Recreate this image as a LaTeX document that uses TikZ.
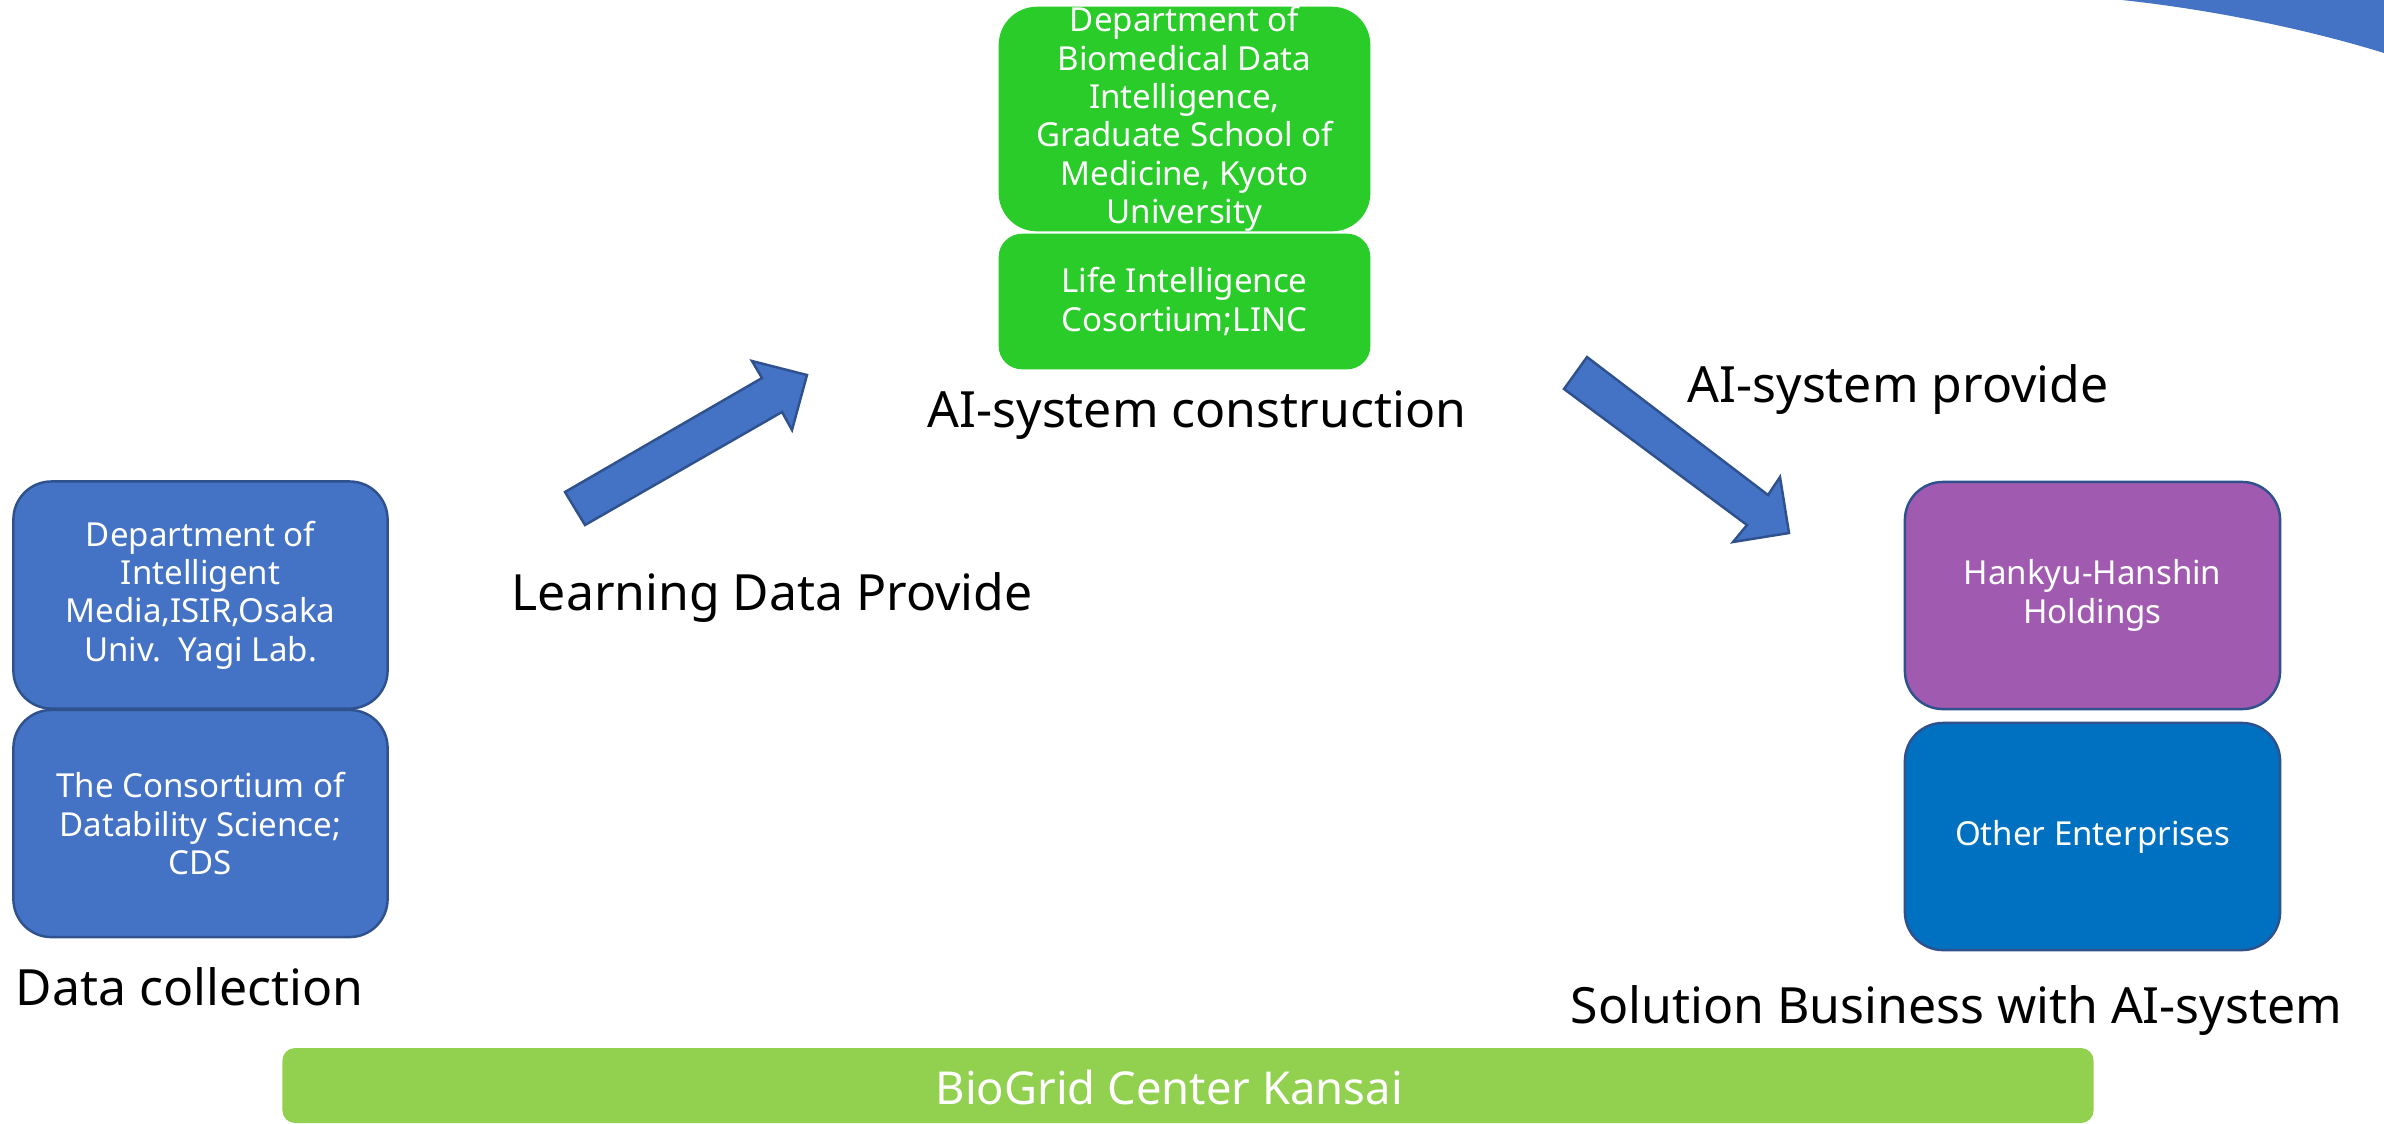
\documentclass[tikz,border=0pt]{standalone}
\usepackage{fontspec}
\setmainfont{Noto Sans}
\definecolor{pblue}{HTML}{4472C4}
\definecolor{pblueline}{HTML}{2F528F}
\definecolor{pgreen}{RGB}{42,204,42}
\definecolor{ppurple}{RGB}{160,90,175}
\definecolor{pother}{HTML}{0070C0}
\definecolor{pbar}{HTML}{92D050}
\begin{document}
\begin{tikzpicture}[x=0.01cm,y=-0.01cm,
  boxshape/.style={draw=pblueline, line width=0.7pt, inner sep=0pt, minimum width=3.74cm, minimum height=2.27cm, rounded corners=0.38cm},
  boxtext/.style={text=white, align=center, inner sep=0pt, font=\fontsize{9.4}{10.9}\selectfont},
  lbl/.style={inner sep=0pt, font=\fontsize{14.2}{17}\selectfont, anchor=base west},
  blockarrow/.style={fill=pblue, draw=pblueline, line width=0.7pt, line join=miter}]
\clip (0,0) rectangle (2384,1123);
% decorative arc top right
\fill[pblue] (2122,0) .. controls (2215,10) and (2310,30) .. (2384,53) -- (2384,0) -- cycle;

% AI-system construction boxes
\node[boxshape, fill=pgreen, draw=pgreen, minimum width=3.69cm, minimum height=2.22cm, rounded corners=0.37cm] (kyoto) at (1184.5,119) {};
\node[boxtext] (kyototxt) at (kyoto.center) {Department of\\Biomedical Data\\Intelligence,\\Graduate School of\\Medicine, Kyoto\\University};
\node[boxshape, fill=pgreen, draw=pgreen, minimum width=3.69cm, minimum height=1.33cm, rounded corners=0.22cm] (linc) at (1184.5,301.5) {};
\node[boxtext] (linctxt) at (linc.center) {Life Intelligence\\Cosortium;LINC};

% Data collection boxes
\node[boxshape, fill=pblue] (osaka) at (200.5,595) {};
\node[boxtext] (osakatxt) at (osaka.center) {Department of\\Intelligent\\Media,ISIR,Osaka\\Univ.\ \ Yagi Lab.};
\node[boxshape, fill=pblue] (cds) at (200.5,823.5) {};
\node[boxtext] (cdstxt) at (cds.center) {The Consortium of\\Datability Science;\\CDS};

% Solution business boxes
\node[boxshape, fill=ppurple, minimum width=3.75cm] (hh) at (2092.5,595.5) {};
\node[boxtext] (hhtxt) at (hh.center) {Hankyu-Hanshin\\Holdings};
\node[boxshape, fill=pother, minimum width=3.75cm] (other) at (2092.5,836.5) {};
\node[boxtext] (othertxt) at (other.center) {Other Enterprises};

% block arrows
\draw[blockarrow] (565,492) -- (762,378) -- (752,361) -- (807,375) -- (792,430) -- (782,412) -- (585,525) -- cycle;
\draw[blockarrow] (1587,357) -- (1768,495) -- (1780,477) -- (1789,533) -- (1733,542) -- (1747,525) -- (1564,389) -- cycle;

% labels
\node[lbl] (ldp) at (511,610) {Learning Data Provide};
\node[lbl] (aic) at (927,427) {AI-system construction};
\node[lbl] (aip) at (1687,402) {AI-system provide};
\node[lbl] (dc) at (15,1005) {Data collection};
\node[lbl] (sb) at (1570,1023) {Solution Business with AI-system};

% bottom bar
\node[fill=pbar, inner sep=0pt, minimum width=18.1cm, minimum height=0.75cm, rounded corners=0.125cm] (bar) at (1188,1085.5) {};
\node[lbl, text=white, font=\fontsize{12.9}{15}\selectfont] (bartxt) at (935,1104) {BioGrid Center Kansai};
\end{tikzpicture}
\end{document}
